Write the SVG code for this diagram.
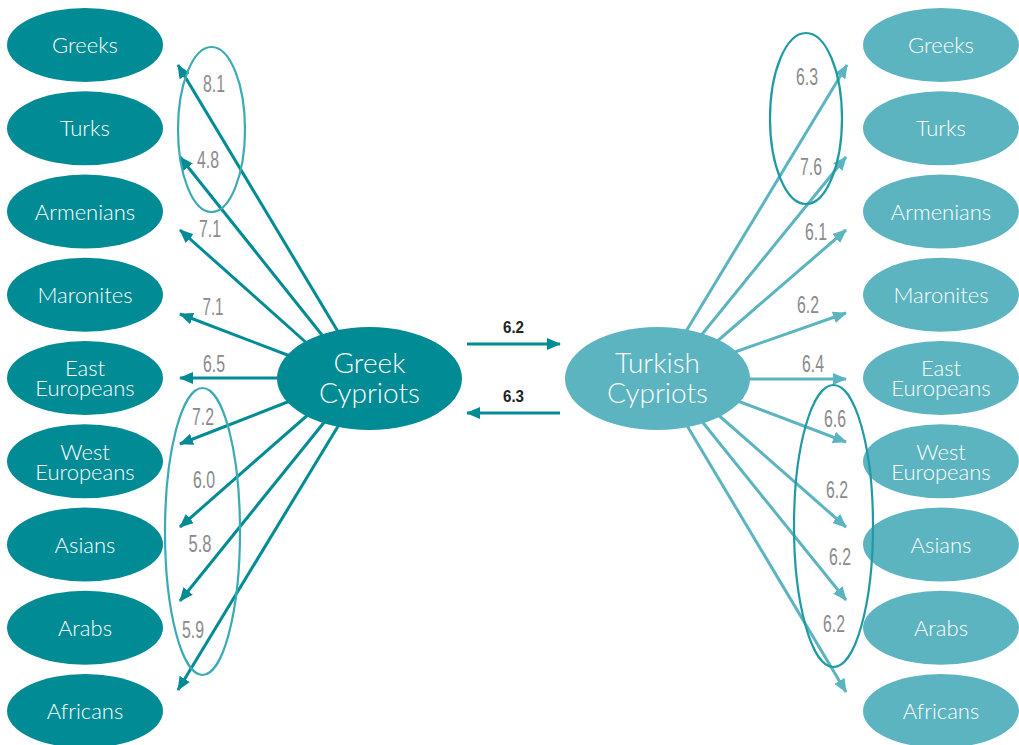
<svg xmlns="http://www.w3.org/2000/svg" width="1019" height="745" viewBox="0 0 1019 745">
<defs>
<style>
.nl{fill:#008b95}
.nr{fill:#5bb4c0}
.nt{fill:#fff;font-family:Lato,"Open Sans","Liberation Sans",sans-serif;font-weight:300;font-size:22px;text-anchor:middle}
.ct{fill:#fff;font-family:Lato,"Open Sans","Liberation Sans",sans-serif;font-weight:300;font-size:28px;text-anchor:middle}
.al{stroke:#008b95;stroke-width:3;fill:none;marker-end:url(#ahl)}
.ar{stroke:#5bb4c0;stroke-width:3;fill:none;marker-end:url(#ahr)}
.lb{fill:#8a8a8c;font-family:"Liberation Sans",Arial,sans-serif;font-size:23px;text-anchor:middle}
.lc{fill:#222;font-family:"Liberation Sans",Arial,sans-serif;font-size:17px;font-weight:bold;text-anchor:middle}
.gl{fill:none;stroke:#3aaab5;stroke-width:2.2}
.gr{fill:none;stroke:#1f9aa5;stroke-width:2.2}
</style>
<marker id="ahl" markerUnits="userSpaceOnUse" markerWidth="14" markerHeight="12" viewBox="0 0 14 12" refX="13" refY="6" orient="auto"><path d="M0,0 L14,6 L0,12 z" fill="#008b95"/></marker>
<marker id="ahr" markerUnits="userSpaceOnUse" markerWidth="14" markerHeight="12" viewBox="0 0 14 12" refX="13" refY="6" orient="auto"><path d="M0,0 L14,6 L0,12 z" fill="#5bb4c0"/></marker>
</defs>
<rect width="1019" height="745" fill="#fff"/>
<g id="connectors">
<line class="al" x1="340" y1="335" x2="178" y2="65"/>
<line class="al" x1="322" y1="335" x2="180" y2="157"/>
<line class="al" x1="310" y1="346" x2="180" y2="230"/>
<line class="al" x1="290" y1="356" x2="180" y2="314"/>
<line class="al" x1="282" y1="378" x2="180" y2="378"/>
<line class="al" x1="290" y1="401" x2="180" y2="444"/>
<line class="al" x1="310" y1="413" x2="180" y2="527"/>
<line class="al" x1="326" y1="420" x2="180" y2="601"/>
<line class="al" x1="340" y1="423" x2="178" y2="690"/>
<line class="ar" x1="685" y1="333" x2="847" y2="65"/>
<line class="ar" x1="699" y1="338" x2="846" y2="157"/>
<line class="ar" x1="714" y1="344" x2="846" y2="230"/>
<line class="ar" x1="732" y1="353" x2="846" y2="313"/>
<line class="ar" x1="745" y1="379" x2="846" y2="379"/>
<line class="ar" x1="735" y1="400" x2="846" y2="442"/>
<line class="ar" x1="716" y1="413" x2="846" y2="527"/>
<line class="ar" x1="700" y1="419" x2="846" y2="600"/>
<line class="ar" x1="686" y1="424" x2="846" y2="692"/>
<line class="al" x1="467" y1="344" x2="560" y2="344"/>
<line class="al" x1="560" y1="413" x2="467" y2="413"/>
</g>
<g id="labels">
<text class="lb" x="214" y="92" textLength="22" lengthAdjust="spacingAndGlyphs">8.1</text>
<text class="lb" x="208" y="168" textLength="22" lengthAdjust="spacingAndGlyphs">4.8</text>
<text class="lb" x="210" y="237" textLength="22" lengthAdjust="spacingAndGlyphs">7.1</text>
<text class="lb" x="213" y="315" textLength="21" lengthAdjust="spacingAndGlyphs">7.1</text>
<text class="lb" x="214" y="372" textLength="22" lengthAdjust="spacingAndGlyphs">6.5</text>
<text class="lb" x="203" y="425" textLength="22" lengthAdjust="spacingAndGlyphs">7.2</text>
<text class="lb" x="204" y="488" textLength="22" lengthAdjust="spacingAndGlyphs">6.0</text>
<text class="lb" x="200" y="552" textLength="23" lengthAdjust="spacingAndGlyphs">5.8</text>
<text class="lb" x="193" y="638" textLength="22" lengthAdjust="spacingAndGlyphs">5.9</text>
<text class="lb" x="807" y="85" textLength="22" lengthAdjust="spacingAndGlyphs">6.3</text>
<text class="lb" x="811" y="175" textLength="22" lengthAdjust="spacingAndGlyphs">7.6</text>
<text class="lb" x="816" y="240" textLength="22" lengthAdjust="spacingAndGlyphs">6.1</text>
<text class="lb" x="808" y="313" textLength="22" lengthAdjust="spacingAndGlyphs">6.2</text>
<text class="lb" x="813" y="372" textLength="22" lengthAdjust="spacingAndGlyphs">6.4</text>
<text class="lb" x="835" y="427" textLength="22" lengthAdjust="spacingAndGlyphs">6.6</text>
<text class="lb" x="837" y="498" textLength="22" lengthAdjust="spacingAndGlyphs">6.2</text>
<text class="lb" x="840" y="565" textLength="22" lengthAdjust="spacingAndGlyphs">6.2</text>
<text class="lb" x="834" y="632" textLength="22" lengthAdjust="spacingAndGlyphs">6.2</text>
<text class="lc" x="513.5" y="333" textLength="21" lengthAdjust="spacingAndGlyphs">6.2</text>
<text class="lc" x="513.5" y="402" textLength="21" lengthAdjust="spacingAndGlyphs">6.3</text>
</g>
<g id="greek-cypriots"><ellipse class="nl" cx="369.5" cy="378.5" rx="92.5" ry="51.5"/><text class="ct" x="369.5" y="373">Greek</text><text class="ct" x="369.5" y="403">Cypriots</text></g>
<g id="turkish-cypriots"><ellipse class="nr" cx="657.5" cy="378.5" rx="92.5" ry="51.5"/><text class="ct" x="657.5" y="373">Turkish</text><text class="ct" x="657.5" y="403">Cypriots</text></g>
<g id="l-greeks"><ellipse class="nl" cx="85" cy="45" rx="78" ry="37"/><text class="nt" x="85" y="53">Greeks</text></g>
<g id="l-turks"><ellipse class="nl" cx="85" cy="128.3" rx="78" ry="37"/><text class="nt" x="85" y="136">Turks</text></g>
<g id="l-armenians"><ellipse class="nl" cx="85" cy="211.5" rx="78" ry="37"/><text class="nt" x="85" y="219.5">Armenians</text></g>
<g id="l-maronites"><ellipse class="nl" cx="85" cy="294.8" rx="78" ry="37"/><text class="nt" x="85" y="302.8">Maronites</text></g>
<g id="l-east"><ellipse class="nl" cx="85" cy="378" rx="78" ry="37"/><text class="nt" x="85" y="376">East</text><text class="nt" x="85" y="396">Europeans</text></g>
<g id="l-west"><ellipse class="nl" cx="85" cy="461.3" rx="78" ry="37"/><text class="nt" x="85" y="460">West</text><text class="nt" x="85" y="480">Europeans</text></g>
<g id="l-asians"><ellipse class="nl" cx="85" cy="544.5" rx="78" ry="37"/><text class="nt" x="85" y="552.5">Asians</text></g>
<g id="l-arabs"><ellipse class="nl" cx="85" cy="627.8" rx="78" ry="37"/><text class="nt" x="85" y="635.8">Arabs</text></g>
<g id="l-africans"><ellipse class="nl" cx="85" cy="711" rx="78" ry="37"/><text class="nt" x="85" y="719">Africans</text></g>
<g id="r-greeks"><ellipse class="nr" cx="941" cy="45" rx="78" ry="37"/><text class="nt" x="941" y="53">Greeks</text></g>
<g id="r-turks"><ellipse class="nr" cx="941" cy="128.3" rx="78" ry="37"/><text class="nt" x="941" y="136">Turks</text></g>
<g id="r-armenians"><ellipse class="nr" cx="941" cy="211.5" rx="78" ry="37"/><text class="nt" x="941" y="219.5">Armenians</text></g>
<g id="r-maronites"><ellipse class="nr" cx="941" cy="294.8" rx="78" ry="37"/><text class="nt" x="941" y="302.8">Maronites</text></g>
<g id="r-east"><ellipse class="nr" cx="941" cy="378" rx="78" ry="37"/><text class="nt" x="941" y="376">East</text><text class="nt" x="941" y="396">Europeans</text></g>
<g id="r-west"><ellipse class="nr" cx="941" cy="461.3" rx="78" ry="37"/><text class="nt" x="941" y="460">West</text><text class="nt" x="941" y="480">Europeans</text></g>
<g id="r-asians"><ellipse class="nr" cx="941" cy="544.5" rx="78" ry="37"/><text class="nt" x="941" y="552.5">Asians</text></g>
<g id="r-arabs"><ellipse class="nr" cx="941" cy="627.8" rx="78" ry="37"/><text class="nt" x="941" y="635.8">Arabs</text></g>
<g id="r-africans"><ellipse class="nr" cx="941" cy="711" rx="78" ry="37"/><text class="nt" x="941" y="719">Africans</text></g>
<g id="groups">
<ellipse class="gl" cx="211.5" cy="129.5" rx="33.5" ry="82.5"/>
<ellipse class="gl" cx="202.5" cy="531.5" rx="37.5" ry="143.5"/>
<ellipse class="gr" cx="806" cy="118.5" rx="36" ry="85.5"/>
<ellipse class="gr" cx="833.5" cy="526" rx="39.5" ry="141"/>
</g>
</svg>
